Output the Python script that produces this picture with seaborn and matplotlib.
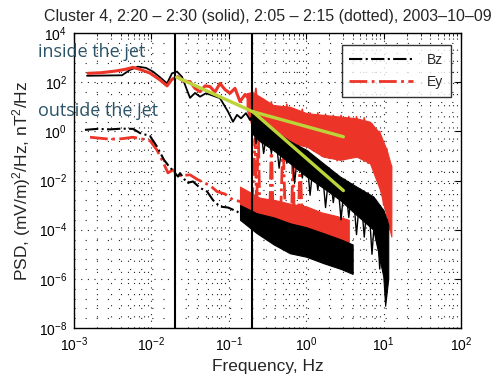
import numpy as np
import pandas as pd
import matplotlib
matplotlib.use("Agg")
import matplotlib.pyplot as plt
from matplotlib.ticker import LogLocator, FixedLocator, NullFormatter
from matplotlib.lines import Line2D
import seaborn as sns

# ---------------- data (log10 frequency in Hz, log10 PSD) ----------------
# inside the jet, solid lines (low-frequency part)
bz_in_logf = [-2.832, -2.38, -2.277, -2.173, -2.07, -1.98, -1.889, -1.798, -1.734, -1.669,
              -1.605, -1.54, -1.501, -1.437, -1.372, -1.295, -1.204, -1.114, -1.01, -0.946,
              -0.894, -0.842, -0.778, -0.726, -0.70]
bz_in_logp = [2.26, 2.28, 2.5, 2.63, 2.58, 2.43, 2.2, 1.95, 2.36, 2.43,
              2.22, 1.68, 1.36, 1.56, 1.41, 1.55, 1.45, 1.35, 0.8, 0.39,
              0.67, 0.53, 0.74, 0.46, 0.6]
ey_in_logf = [-2.819, -2.664, -2.47, -2.341, -2.238, -2.147, -2.018, -1.889, -1.798, -1.734,
              -1.656, -1.592, -1.501, -1.437, -1.372, -1.307, -1.243, -1.178, -1.114, -1.05,
              -0.984, -0.92, -0.855, -0.79, -0.726]
ey_in_logp = [2.36, 2.38, 2.45, 2.52, 2.6, 2.52, 2.37, 2.09, 1.85, 2.12,
              2.22, 2.05, 2.02, 1.75, 1.61, 1.85, 1.82, 1.6, 1.95, 1.7,
              1.55, 1.75, 1.21, 1.5, 1.28]
# inside the jet, noisy high-frequency part: envelopes
bz_in_band_logf = [-0.70, -0.60, -0.425, -0.21, 0.006, 0.22, 0.437, 0.65, 0.867, 0.996, 1.02, 1.06]
bz_in_band_hi = [0.87, 0.45, 0.06, -0.4, -0.76, -1.3, -1.84, -2.25, -2.65, -3.2, -3.4, -3.8]
bz_in_band_lo = [-0.08, -0.4, -0.76, -1.3, -1.84, -2.3, -2.79, -3.4, -4.0, -5.9, -7.1, -6.0]
ey_in_band_logf = [-0.77, -0.70, -0.597, -0.425, -0.21, 0.006, 0.22, 0.437, 0.652, 0.824, 0.953, 1.04, 1.10]
ey_in_band_hi = [1.55, 1.6, 1.41, 1.07, 1.0, 0.74, 0.67, 0.6, 0.53, 0.39, -0.08, -0.76, -1.43]
ey_in_band_lo = [0.9, 0.19, 0.0, -0.08, -0.48, -0.62, -1.03, -1.16, -1.03, -1.3, -2.38, -3.47, -4.28]
# inside the jet, noisy fluctuations read across the bands
bz_in_noise_logf = [-0.70, -0.65, -0.60, -0.55, -0.50, -0.45, -0.40, -0.35, -0.30, -0.25,
                    -0.20, -0.15, -0.10, -0.05, 0.00, 0.05, 0.10, 0.15, 0.20, 0.25,
                    0.30, 0.35, 0.40, 0.45, 0.50, 0.55, 0.60, 0.65, 0.70, 0.75,
                    0.80, 0.85, 0.90, 0.95, 1.00, 1.03, 1.05]
bz_in_noise_logp = [0.8, -0.5, 0.45, -0.9, 0.2, -0.9, 0.0, -1.5, -0.25, -1.3,
                    -0.45, -2.1, -0.6, -1.9, -0.8, -2.6, -1.05, -2.4, -1.3, -3.1,
                    -1.5, -2.9, -1.75, -3.6, -1.95, -3.5, -2.15, -4.2, -2.35, -4.3,
                    -2.5, -5.0, -2.8, -5.6, -3.2, -6.8, -3.6]
ey_in_noise_logf = [-0.75, -0.70, -0.65, -0.60, -0.55, -0.50, -0.45, -0.40, -0.35, -0.30,
                    -0.25, -0.20, -0.15, -0.10, -0.05, 0.00, 0.05, 0.10, 0.15, 0.20,
                    0.25, 0.30, 0.35, 0.40, 0.45, 0.50, 0.55, 0.60, 0.65, 0.70,
                    0.75, 0.80, 0.85, 0.90, 0.95, 1.00, 1.04, 1.08, 1.10]
ey_in_noise_logp = [1.5, 0.6, 1.75, 0.3, 1.3, 0.1, 1.2, -0.1, 1.0, -0.3,
                    1.1, -0.5, 0.85, -0.5, 0.9, -0.6, 0.75, -0.8, 0.75, -1.0,
                    0.7, -1.1, 0.65, -1.2, 0.65, -1.1, 0.6, -1.0, 0.6, -1.1,
                    0.55, -1.3, 0.3, -1.8, 0.0, -3.0, -0.7, -4.0, -1.4]

# outside the jet, dash-dot lines
bz_out_logf = [-2.858, -2.7, -2.535, -2.38, -2.238, -2.147, -2.018, -1.928, -1.837, -1.786,
               -1.656, -1.63, -1.54, -1.463, -1.372, -1.28, -1.204, -1.114, -1.01, -0.894,
               -0.79, -0.687]
bz_out_logp = [0.06, 0.1, 0.08, 0.11, 0.1, -0.07, -0.19, -0.62, -1.16, -1.37,
               -1.84, -1.7, -2.1, -2.04, -2.3, -2.45, -2.8, -3.06, -3.1, -3.26,
               -3.5, -3.87]
ey_out_logf = [-2.793, -2.535, -2.38, -2.238, -2.109, -2.018, -1.928, -1.863, -1.786, -1.721,
               -1.63, -1.50, -1.41, -1.307, -1.243, -1.152, -1.05, -0.946, -0.855, -0.726]
ey_out_logp = [-0.24, -0.32, -0.3, -0.24, -0.32, -0.38, -0.76, -1.16, -1.69, -1.57,
               -1.8, -1.77, -1.95, -2.11, -2.2, -2.45, -2.55, -2.79, -2.85, -3.06]
# outside the jet, noisy high-frequency part: envelopes
bz_out_band_logf = [-0.855, -0.64, -0.42, -0.21, 0.0, 0.22, 0.45, 0.6]
bz_out_band_hi = [-3.0, -3.33, -3.5, -3.74, -3.9, -4.14, -4.4, -4.6]
bz_out_band_lo = [-3.6, -4.14, -4.6, -4.96, -5.1, -5.36, -5.6, -5.8]
ey_out_band_logf = [-0.855, -0.6, -0.4, -0.2, 0.0, 0.2, 0.4, 0.55]
ey_out_band_hi = [-2.25, -2.7, -2.8, -2.95, -3.05, -3.3, -3.45, -3.6]
ey_out_band_lo = [-3.47, -3.6, -3.75, -4.0, -4.2, -4.4, -4.5, -4.5]
# Ey outside: spiky excursions between 0.2 and 1 Hz
ey_out_spk_logf = [-0.70, -0.66, -0.64, -0.62, -0.60, -0.55, -0.47, -0.45, -0.43, -0.33,
                   -0.30, -0.27, -0.19, -0.17, -0.15, -0.10, -0.08, -0.05]
ey_out_spk_logp = [-3.0, -0.3, -3.2, 0.2, -3.1, -2.9, -3.3, -0.4, -3.2, -3.4,
                   -0.3, -3.5, -3.6, -0.9, -4.4, -3.5, -1.2, -3.6]

# power-law fits (yellow lines)
fit_a_logf = [-1.673, -0.69]
fit_a_logp = [2.2, 0.8]
fit_b_logf = [-0.69, 0.48]
fit_b_logp = [0.8, -0.22]
fit_c_logf = [-0.69, 0.48]
fit_c_logp = [0.8, -2.41]

boundaries_hz = [0.02, 0.2]

title = "Cluster 4, 2:20 \u2013 2:30 (solid), 2:05 \u2013 2:15 (dotted), 2003\u201310\u201309"

# ---------------- plotting ----------------
sns.set_theme(style="white")
plt.rcParams['font.family'] = ['Liberation Sans', 'DejaVu Sans']
plt.rcParams['mathtext.fontset'] = 'custom'
plt.rcParams['mathtext.rm'] = 'Liberation Sans'
plt.rcParams['mathtext.it'] = 'Liberation Sans:italic'

RED = '#ec3428'
BLACK = '#000000'
YEL = '#bcd43a'

def df(lf, lp):
    return pd.DataFrame({'f': np.power(10.0, lf), 'p': np.power(10.0, lp)})

fig = plt.figure(figsize=(4.92, 3.79), dpi=100)
ax = fig.add_axes([74/492, 1-328/379, (461-74)/492, (328-33)/379])
ax.set_xscale('log')
ax.set_yscale('log')

# grid
ax.xaxis.set_major_locator(LogLocator(base=10, numticks=20))
ax.xaxis.set_minor_locator(LogLocator(base=10, subs=np.arange(2, 10), numticks=20))
ax.xaxis.set_minor_formatter(NullFormatter())
ax.yaxis.set_major_locator(FixedLocator([10.0**k for k in range(-8, 5, 2)]))
ymin = [10.0**(k - 0.4*j) for k in range(4, -7, -2) for j in range(1, 5)]
ax.yaxis.set_minor_locator(FixedLocator(ymin))
ax.yaxis.set_minor_formatter(NullFormatter())
ax.grid(True, which='major', color='#222222', linestyle=(0, (1, 5)), linewidth=0.8)
ax.grid(True, which='minor', color='#222222', linestyle=(0, (1, 9)), linewidth=0.8)

# bands (noisy high-frequency parts)
def band(lf, hi, lo, color, z):
    ax.fill_between(np.power(10.0, lf), np.power(10.0, hi), np.power(10.0, lo),
                    color=color, linewidth=0.8, edgecolor=color, zorder=z)

band(ey_in_band_logf, ey_in_band_hi, ey_in_band_lo, RED, 2)
band(ey_out_band_logf, ey_out_band_hi, ey_out_band_lo, RED, 2.1)
band(bz_out_band_logf, bz_out_band_hi, bz_out_band_lo, BLACK, 2.2)
band(bz_in_band_logf, bz_in_band_hi, bz_in_band_lo, BLACK, 2.4)

kw = dict(x='f', y='p', ax=ax, estimator=None, sort=False, legend=False)
sns.lineplot(data=df(ey_in_noise_logf, ey_in_noise_logp), color=RED, linewidth=1.2,
             zorder=2.05, **kw)
sns.lineplot(data=df(bz_in_noise_logf, bz_in_noise_logp), color=BLACK, linewidth=1.0,
             zorder=2.45, **kw)
sns.lineplot(data=df(ey_out_spk_logf, ey_out_spk_logp), color=RED, linewidth=2, linestyle='-.',
             zorder=2.15, **kw)
sns.lineplot(data=df(ey_out_logf, ey_out_logp), color=RED, linewidth=2, linestyle='-.',
             zorder=3, **kw)
sns.lineplot(data=df(bz_out_logf, bz_out_logp), color=BLACK, linewidth=1.5, linestyle='-.',
             zorder=3.1, **kw)
sns.lineplot(data=df(bz_in_logf, bz_in_logp), color=BLACK, linewidth=1.3, zorder=3.2, **kw)
sns.lineplot(data=df(ey_in_logf, ey_in_logp), color=RED, linewidth=2.2, zorder=3.3, **kw)

for lf, lp in [(fit_a_logf, fit_a_logp), (fit_b_logf, fit_b_logp), (fit_c_logf, fit_c_logp)]:
    sns.lineplot(data=df(lf, lp), color=YEL, linewidth=2.4, zorder=6, **kw)

for b in boundaries_hz:
    ax.axvline(b, color='black', linewidth=1.5, zorder=5)

ax.set_xlim(1e-3, 1e2)
ax.set_ylim(1e-8, 1e4)

for s in ax.spines.values():
    s.set_color('black')
    s.set_linewidth(1.0)
ax.tick_params(which='both', direction='in', top=True, right=True, colors='black',
               labelsize=10, pad=5)
ax.tick_params(which='major', length=4, width=0.8)
ax.tick_params(axis='x', which='minor', length=2.5, width=0.6)
ax.tick_params(axis='y', which='minor', length=0)

ax.set_xlabel('Frequency, Hz', fontsize=12.5, labelpad=4)
ax.set_ylabel('PSD, (mV/m)$^2$/Hz, nT$^2$/Hz', fontsize=12.5, labelpad=4)
ax.set_title(title, fontsize=11.5, pad=9)

# legend
h = [Line2D([], [], color=BLACK, linestyle='-.', linewidth=1.5),
     Line2D([], [], color=RED, linestyle='-.', linewidth=2)]
leg = ax.legend(h, ['Bz', 'Ey'], loc='upper right', bbox_to_anchor=(451/492, 1-45/379),
                bbox_transform=fig.transFigure, frameon=True, fancybox=False,
                fontsize=10, handlelength=4.6, borderpad=0.55, labelspacing=0.6,
                handletextpad=1.0, borderaxespad=0)
leg.get_frame().set_edgecolor('black')
leg.get_frame().set_linewidth(1.0)
leg.set_zorder(10)

# annotations
fig.text(38/492, 1-52/379, 'inside the jet', fontsize=13, color='#2b5468',
         family=['Open Sans', 'DejaVu Sans'], va='center', ha='left')
fig.text(38/492, 1-111/379, 'outside the jet', fontsize=13, color='#2b5468',
         family=['Open Sans', 'DejaVu Sans'], va='center', ha='left')

fig.savefig('out.png', dpi=100)
